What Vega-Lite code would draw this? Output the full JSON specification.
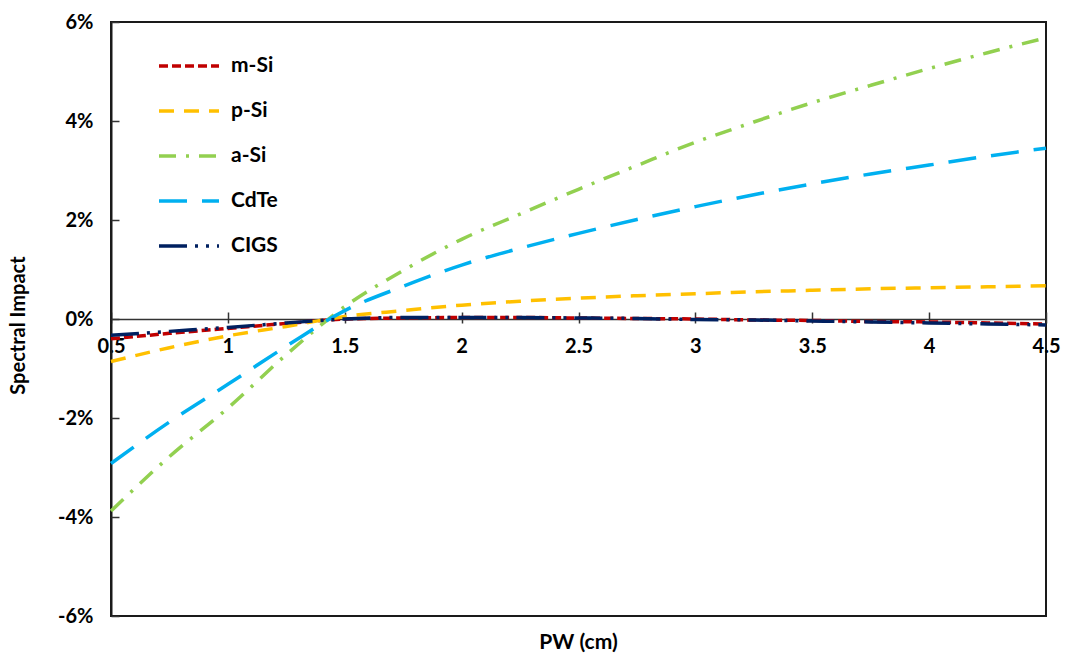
{
  "$schema": "https://vega.github.io/schema/vega-lite/v6.json",
  "autosize": "none",
  "width": 935,
  "height": 594,
  "padding": {"left": 111, "top": 22, "right": 21, "bottom": 39},
  "background": "white",
  "config": {
    "view": {"stroke": "#1a1a1a", "strokeWidth": 2},
    "font": "Lato",
    "axis": {"labelFont": "Lato", "titleFont": "Lato", "grid": false}
  },
  "title": {"text": "PW (cm)", "orient": "bottom", "anchor": "middle", "font": "Lato", "fontSize": 21, "fontWeight": "bold", "color": "#000", "offset": 6, "frame": "group"},
  "datasets": {
    "d": [
      {"pw": 0.5, "series": "m-Si", "v": -0.40}, {"pw": 0.75, "series": "m-Si", "v": -0.29}, {"pw": 1, "series": "m-Si", "v": -0.19}, {"pw": 1.25, "series": "m-Si", "v": -0.09}, {"pw": 1.5, "series": "m-Si", "v": 0.0}, {"pw": 1.75, "series": "m-Si", "v": 0.02}, {"pw": 2, "series": "m-Si", "v": 0.03}, {"pw": 2.25, "series": "m-Si", "v": 0.03}, {"pw": 2.5, "series": "m-Si", "v": 0.02}, {"pw": 2.75, "series": "m-Si", "v": 0.01}, {"pw": 3, "series": "m-Si", "v": 0.0}, {"pw": 3.25, "series": "m-Si", "v": -0.02}, {"pw": 3.5, "series": "m-Si", "v": -0.03}, {"pw": 3.75, "series": "m-Si", "v": -0.05}, {"pw": 4, "series": "m-Si", "v": -0.06}, {"pw": 4.25, "series": "m-Si", "v": -0.08}, {"pw": 4.5, "series": "m-Si", "v": -0.10},
      {"pw": 0.5, "series": "p-Si", "v": -0.86}, {"pw": 0.75, "series": "p-Si", "v": -0.58}, {"pw": 1, "series": "p-Si", "v": -0.34}, {"pw": 1.25, "series": "p-Si", "v": -0.15}, {"pw": 1.5, "series": "p-Si", "v": 0.05}, {"pw": 1.75, "series": "p-Si", "v": 0.17}, {"pw": 2, "series": "p-Si", "v": 0.28}, {"pw": 2.25, "series": "p-Si", "v": 0.36}, {"pw": 2.5, "series": "p-Si", "v": 0.42}, {"pw": 2.75, "series": "p-Si", "v": 0.47}, {"pw": 3, "series": "p-Si", "v": 0.51}, {"pw": 3.25, "series": "p-Si", "v": 0.55}, {"pw": 3.5, "series": "p-Si", "v": 0.58}, {"pw": 3.75, "series": "p-Si", "v": 0.61}, {"pw": 4, "series": "p-Si", "v": 0.63}, {"pw": 4.25, "series": "p-Si", "v": 0.65}, {"pw": 4.5, "series": "p-Si", "v": 0.67},
      {"pw": 0.5, "series": "a-Si", "v": -3.88}, {"pw": 0.75, "series": "a-Si", "v": -2.78}, {"pw": 1, "series": "a-Si", "v": -1.80}, {"pw": 1.25, "series": "a-Si", "v": -0.72}, {"pw": 1.5, "series": "a-Si", "v": 0.25}, {"pw": 1.75, "series": "a-Si", "v": 0.98}, {"pw": 2, "series": "a-Si", "v": 1.61}, {"pw": 2.25, "series": "a-Si", "v": 2.12}, {"pw": 2.5, "series": "a-Si", "v": 2.62}, {"pw": 2.75, "series": "a-Si", "v": 3.10}, {"pw": 3, "series": "a-Si", "v": 3.57}, {"pw": 3.25, "series": "a-Si", "v": 3.98}, {"pw": 3.5, "series": "a-Si", "v": 4.37}, {"pw": 3.75, "series": "a-Si", "v": 4.72}, {"pw": 4, "series": "a-Si", "v": 5.06}, {"pw": 4.25, "series": "a-Si", "v": 5.38}, {"pw": 4.5, "series": "a-Si", "v": 5.68},
      {"pw": 0.5, "series": "CdTe", "v": -2.92}, {"pw": 0.75, "series": "CdTe", "v": -2.08}, {"pw": 1, "series": "CdTe", "v": -1.32}, {"pw": 1.25, "series": "CdTe", "v": -0.55}, {"pw": 1.5, "series": "CdTe", "v": 0.17}, {"pw": 1.75, "series": "CdTe", "v": 0.66}, {"pw": 2, "series": "CdTe", "v": 1.09}, {"pw": 2.25, "series": "CdTe", "v": 1.43}, {"pw": 2.5, "series": "CdTe", "v": 1.73}, {"pw": 2.75, "series": "CdTe", "v": 2.01}, {"pw": 3, "series": "CdTe", "v": 2.27}, {"pw": 3.25, "series": "CdTe", "v": 2.51}, {"pw": 3.5, "series": "CdTe", "v": 2.73}, {"pw": 3.75, "series": "CdTe", "v": 2.93}, {"pw": 4, "series": "CdTe", "v": 3.11}, {"pw": 4.25, "series": "CdTe", "v": 3.29}, {"pw": 4.5, "series": "CdTe", "v": 3.45},
      {"pw": 0.5, "series": "CIGS", "v": -0.33}, {"pw": 0.75, "series": "CIGS", "v": -0.25}, {"pw": 1, "series": "CIGS", "v": -0.17}, {"pw": 1.25, "series": "CIGS", "v": -0.08}, {"pw": 1.5, "series": "CIGS", "v": 0.0}, {"pw": 1.75, "series": "CIGS", "v": 0.03}, {"pw": 2, "series": "CIGS", "v": 0.03}, {"pw": 2.25, "series": "CIGS", "v": 0.03}, {"pw": 2.5, "series": "CIGS", "v": 0.02}, {"pw": 2.75, "series": "CIGS", "v": 0.01}, {"pw": 3, "series": "CIGS", "v": -0.01}, {"pw": 3.25, "series": "CIGS", "v": -0.02}, {"pw": 3.5, "series": "CIGS", "v": -0.04}, {"pw": 3.75, "series": "CIGS", "v": -0.06}, {"pw": 4, "series": "CIGS", "v": -0.08}, {"pw": 4.25, "series": "CIGS", "v": -0.10}, {"pw": 4.5, "series": "CIGS", "v": -0.12}
    ]
  },
  "data": {"name": "d"},
  "resolve": {"axis": {"x": "independent", "y": "independent"}},
  "layer": [
    {
      "mark": {"type": "line", "strokeWidth": 3.5, "interpolate": "monotone", "strokeCap": "butt"},
      "encoding": {
        "x": {"field": "pw", "type": "quantitative", "scale": {"domain": [0.5, 4.5], "nice": false, "zero": false},
          "axis": {"orient": "bottom", "offset": -297, "values": [0.5, 1, 1.5, 2, 2.5, 3, 3.5, 4, 4.5], "labelExpr": "'' + datum.value", "title": null, "labelFlush": false, "labelOverlap": false, "labelFontSize": 20, "labelFontWeight": "bold", "labelColor": "#000", "labelPadding": 13, "tickSize": 4, "tickWidth": 1.5, "tickColor": "#333", "domainColor": "#333", "domainWidth": 1.5}},
        "y": {"field": "v", "type": "quantitative", "scale": {"domain": [-6, 6], "nice": false, "zero": false},
          "axis": {"orient": "left", "values": [-6, -4, -2, 0, 2, 4, 6], "labelExpr": "datum.value + '%'", "ticks": false, "labelPadding": 18, "labelFontSize": 20, "labelFontWeight": "bold", "labelColor": "#000", "domainColor": "#1a1a1a", "domainWidth": 2, "title": "Spectral Impact", "titleFontSize": 20, "titleFontWeight": "bold", "titleColor": "#000", "titleX": -93, "titleY": 303, "titleAngle": 270, "titleAlign": "center", "titleBaseline": "middle"}},
        "color": {"field": "series", "type": "nominal",
          "scale": {"domain": ["m-Si", "p-Si", "a-Si", "CdTe", "CIGS"], "range": ["#C00000", "#FFC000", "#92D050", "#00B0F0", "#002060"]},
          "legend": {"orient": "none", "legendX": 46, "legendY": 12, "title": null, "padding": 0, "symbolType": "stroke", "symbolSize": 3600, "symbolStrokeWidth": 3.5, "labelFont": "Lato", "labelFontSize": 21, "labelFontWeight": "bold", "labelColor": "#000", "labelOffset": 10, "rowPadding": 3}},
        "strokeDash": {"field": "series", "type": "nominal",
          "scale": {"domain": ["m-Si", "p-Si", "a-Si", "CdTe", "CIGS"], "range": [[9, 4], [15, 10], [17, 10, 3, 10], [28, 15], [28, 8, 3, 8, 3, 8]]},
          "legend": {"orient": "none", "legendX": 46, "legendY": 12, "title": null, "padding": 0, "symbolType": "stroke", "symbolSize": 3600, "symbolStrokeWidth": 3.5, "labelFont": "Lato", "labelFontSize": 21, "labelFontWeight": "bold", "labelColor": "#000", "labelOffset": 10, "rowPadding": 3}}
      }
    },
    {
      "mark": {"type": "point", "opacity": 0},
      "encoding": {
        "x": {"field": "pw", "type": "quantitative",
          "axis": {"orient": "top", "offset": -297, "values": [0.5, 1, 1.5, 2, 2.5, 3, 3.5, 4, 4.5], "title": null, "labels": false, "domain": false, "tickSize": 7, "tickWidth": 1.5, "tickColor": "#333"}},
        "y": {"field": "v", "type": "quantitative",
          "axis": {"orient": "left", "offset": -8, "values": [-6, -4, -2, 0, 2, 4, 6], "title": null, "labels": false, "domain": false, "tickSize": 8, "tickWidth": 1.5, "tickColor": "#333"}}
      }
    }
  ]
}
